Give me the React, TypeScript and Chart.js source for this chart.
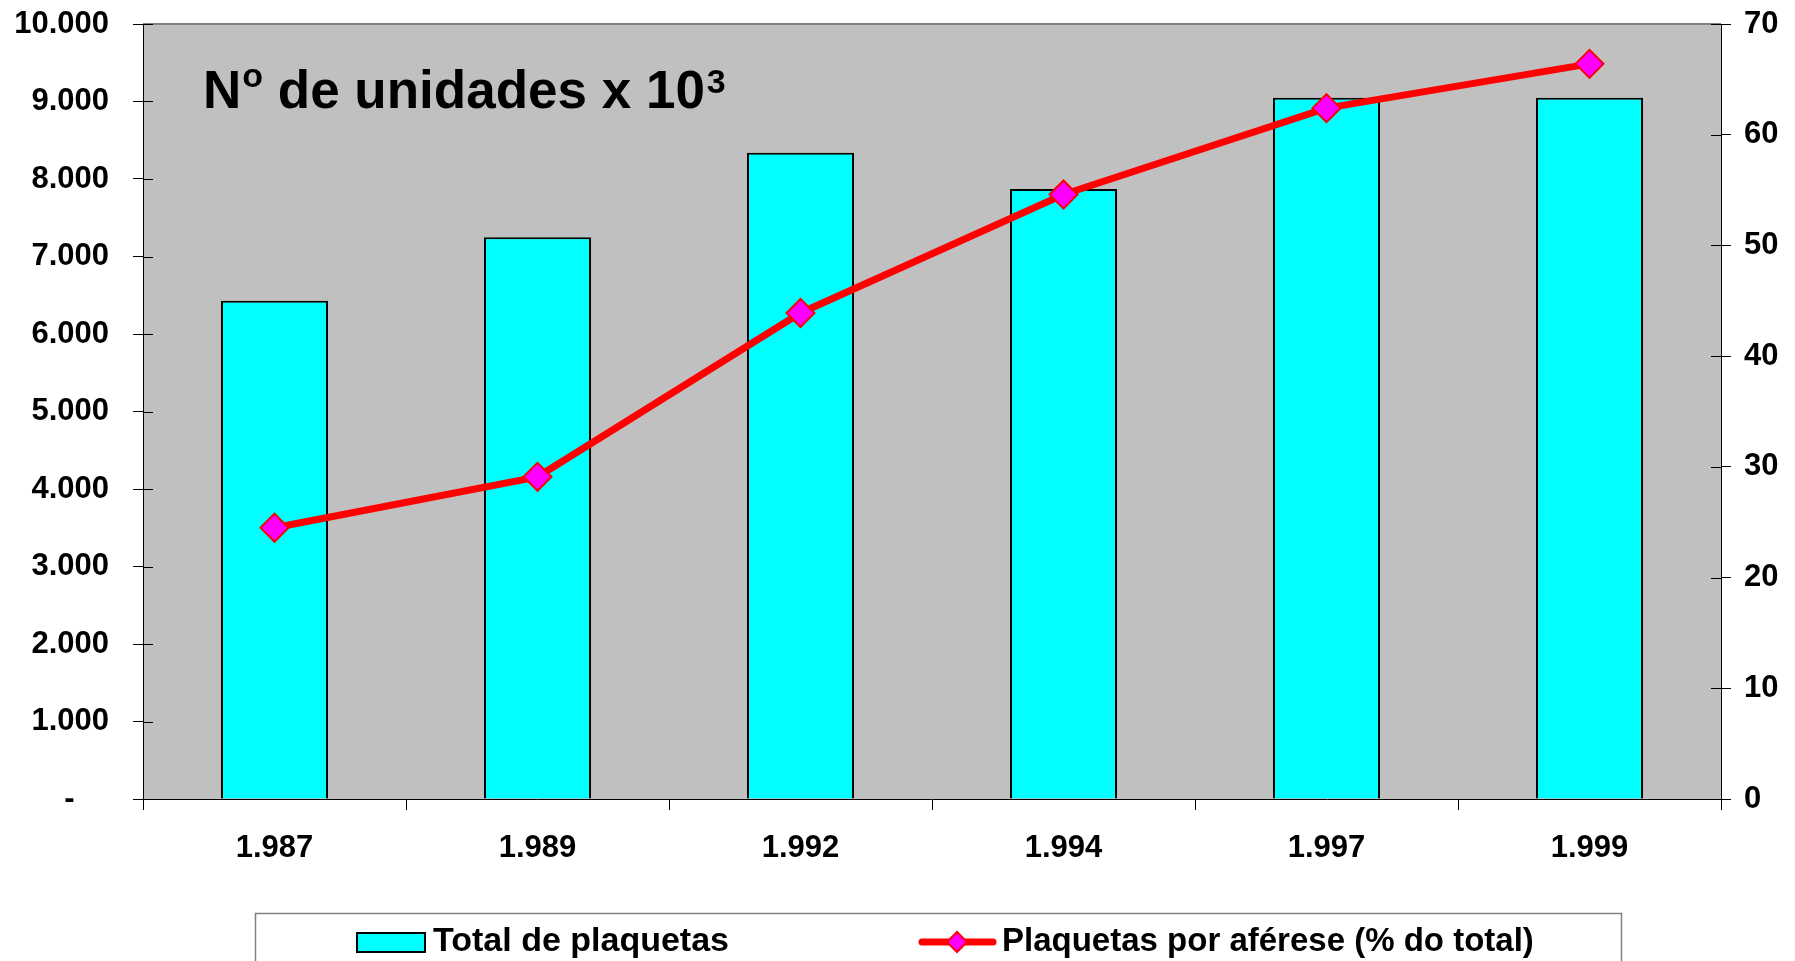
import React, { useEffect, useRef } from 'react';
import { Chart, registerables } from 'chart.js';

Chart.register(...registerables);

const categories = ['1.987', '1.989', '1.992', '1.994', '1.997', '1.999'];
const totalPlaquetas = [6430, 7250, 8340, 7870, 9050, 9050];
const aferesePct = [24.5, 29.1, 43.9, 54.6, 62.4, 66.4];
const leftTickLabels = ['-    ', '1.000', '2.000', '3.000', '4.000', '5.000', '6.000', '7.000', '8.000', '9.000', '10.000'];
const rightTickLabels = ['0', '10', '20', '30', '40', '50', '60', '70'];
const seriesLabels = ['Total de plaquetas', 'Plaquetas por aférese (% do total)'];
const titleParts = ['N', 'o', ' de unidades x 10', '3'];

const FONT = '"Liberation Sans", Arial, Helvetica, sans-serif';

export default function App() {
  const ref = useRef<HTMLCanvasElement>(null);

  useEffect(() => {
    document.body.style.margin = '0';
    const canvas = ref.current;
    if (!canvas) return;

    const plotBg = {
      id: 'plotBg',
      beforeDraw(chart: any) {
        const { ctx, chartArea: a } = chart;
        ctx.save();
        ctx.fillStyle = '#C0C0C0';
        ctx.fillRect(a.left, a.top, a.right - a.left, a.bottom - a.top);
        ctx.strokeStyle = '#808080';
        ctx.lineWidth = 2;
        ctx.beginPath();
        ctx.moveTo(a.left, a.top);
        ctx.lineTo(a.right, a.top);
        ctx.stroke();
        ctx.restore();
      },
    };

    const innerTicks = {
      id: 'innerTicks',
      afterDraw(chart: any) {
        const { ctx, chartArea: a } = chart;
        ctx.save();
        ctx.strokeStyle = '#000';
        ctx.lineWidth = 1;
        const ys = chart.scales.y;
        ys.ticks.forEach((t: any) => {
          const p = Math.round(ys.getPixelForValue(t.value)) + 0.5;
          ctx.beginPath();
          ctx.moveTo(a.left, p);
          ctx.lineTo(a.left + 10, p);
          ctx.stroke();
        });
        const y1 = chart.scales.y1;
        y1.ticks.forEach((t: any) => {
          const p = Math.round(y1.getPixelForValue(t.value)) + 0.5;
          ctx.beginPath();
          ctx.moveTo(a.right - 10, p);
          ctx.lineTo(a.right, p);
          ctx.stroke();
        });
        ctx.restore();
      },
    };

    const titlePlugin = {
      id: 'innerTitle',
      afterDraw(chart: any) {
        const { ctx } = chart;
        ctx.save();
        ctx.fillStyle = '#000';
        ctx.textBaseline = 'alphabetic';
        ctx.textAlign = 'left';
        let x = 203;
        const base = 108;
        ctx.font = `bold 53px ${FONT}`;
        ctx.fillText(titleParts[0], x, base);
        x += ctx.measureText(titleParts[0]).width + 1;
        ctx.font = `bold 34px ${FONT}`;
        ctx.fillText(titleParts[1], x, base - 21);
        x += ctx.measureText(titleParts[1]).width;
        ctx.font = `bold 53px ${FONT}`;
        ctx.fillText(titleParts[2], x, base);
        x += ctx.measureText(titleParts[2]).width + 2;
        ctx.font = `bold 34px ${FONT}`;
        ctx.fillText(titleParts[3], x, base - 15);
        ctx.restore();
      },
    };

    const legendPlugin = {
      id: 'boxLegend',
      afterDraw(chart: any) {
        const { ctx } = chart;
        const ds0 = chart.data.datasets[0];
        const ds1 = chart.data.datasets[1];
        ctx.save();
        ctx.strokeStyle = '#808080';
        ctx.lineWidth = 1.5;
        ctx.strokeRect(255.5, 913.5, 1621 - 255, 100);
        const cy = 942;
        // bar item
        ctx.fillStyle = ds0.backgroundColor;
        ctx.fillRect(357, 933, 68, 19);
        ctx.strokeStyle = ds0.borderColor;
        ctx.lineWidth = 2;
        ctx.strokeRect(357, 933, 68, 19);
        ctx.font = `bold 34px ${FONT}`;
        ctx.fillStyle = '#000';
        ctx.textBaseline = 'middle';
        ctx.fillText(ds0.label, 433, cy);
        // line item
        ctx.strokeStyle = ds1.borderColor;
        ctx.lineWidth = 7;
        ctx.lineCap = 'round';
        ctx.beginPath();
        ctx.moveTo(922, cy);
        ctx.lineTo(993, cy);
        ctx.stroke();
        ctx.lineCap = 'butt';
        const r = 10;
        ctx.beginPath();
        ctx.moveTo(957, cy - r);
        ctx.lineTo(957 + r, cy);
        ctx.lineTo(957, cy + r);
        ctx.lineTo(957 - r, cy);
        ctx.closePath();
        ctx.fillStyle = ds1.pointBackgroundColor;
        ctx.fill();
        ctx.strokeStyle = ds1.pointBorderColor;
        ctx.lineWidth = 2;
        ctx.stroke();
        ctx.fillStyle = '#000';
        ctx.font = `bold 33px ${FONT}`;
        ctx.fillText(ds1.label, 1002, cy);
        ctx.restore();
      },
    };

    const tickFont = { family: FONT, size: 31, weight: 'bold' as const };

    const chart = new Chart(canvas, {
      type: 'bar',
      data: {
        labels: categories,
        datasets: [
          {
            type: 'bar',
            label: seriesLabels[0],
            data: totalPlaquetas,
            backgroundColor: '#00FFFF',
            borderColor: '#000000',
            borderWidth: 2,
            categoryPercentage: 1,
            barPercentage: 0.407,
            yAxisID: 'y',
            order: 2,
          } as any,
          {
            type: 'line',
            label: seriesLabels[1],
            data: aferesePct,
            borderColor: '#FF0000',
            borderWidth: 7,
            pointStyle: 'rectRot',
            pointRadius: 14,
            pointBackgroundColor: '#FF00FF',
            pointBorderColor: '#FF0000',
            pointBorderWidth: 2,
            tension: 0,
            yAxisID: 'y1',
            order: 1,
          } as any,
        ],
      },
      options: {
        responsive: false,
        animation: false,
        devicePixelRatio: 1,
        layout: { padding: { top: 24, left: 0, right: 0, bottom: 0 } },
        plugins: {
          legend: { display: false },
          tooltip: { enabled: false },
          title: { display: false },
        },
        scales: {
          x: {
            offset: true,
            grid: {
              offset: true,
              drawOnChartArea: false,
              drawTicks: true,
              tickLength: 11,
              color: '#000',
            },
            border: { display: true, color: '#000', width: 1 },
            ticks: {
              font: tickFont,
              color: '#000',
              padding: 20,
              maxRotation: 0,
              autoSkip: false,
            },
            afterFit(scale: any) {
              scale.height = 162;
              scale.paddingLeft = 0;
              scale.paddingRight = 0;
            },
          },
          y: {
            position: 'left',
            min: 0,
            max: 10000,
            grid: {
              drawOnChartArea: false,
              drawTicks: true,
              tickLength: 10,
              color: '#000',
            },
            border: { display: true, color: '#000', width: 1 },
            ticks: {
              stepSize: 1000,
              font: tickFont,
              color: '#000',
              padding: 24,
              callback: (_v: any, i: number) => leftTickLabels[i],
            },
            afterFit(scale: any) {
              scale.width = 143;
              scale.paddingTop = 0;
              scale.paddingBottom = 0;
            },
          },
          y1: {
            position: 'right',
            min: 0,
            max: 70,
            grid: {
              drawOnChartArea: false,
              drawTicks: true,
              tickLength: 10,
              color: '#000',
            },
            border: { display: true, color: '#000', width: 1 },
            ticks: {
              stepSize: 10,
              font: tickFont,
              color: '#000',
              padding: 13,
              callback: (_v: any, i: number) => rightTickLabels[i],
            },
            afterFit(scale: any) {
              scale.width = 74;
              scale.paddingTop = 0;
              scale.paddingBottom = 0;
            },
          },
        },
      },
      plugins: [plotBg, innerTicks, titlePlugin, legendPlugin],
    });

    return () => chart.destroy();
  }, []);

  return (
    <div style={{ width: 1795, height: 961, position: 'relative', overflow: 'hidden' }}>
      <canvas ref={ref} width={1795} height={961} style={{ display: 'block' }} />
    </div>
  );
}
